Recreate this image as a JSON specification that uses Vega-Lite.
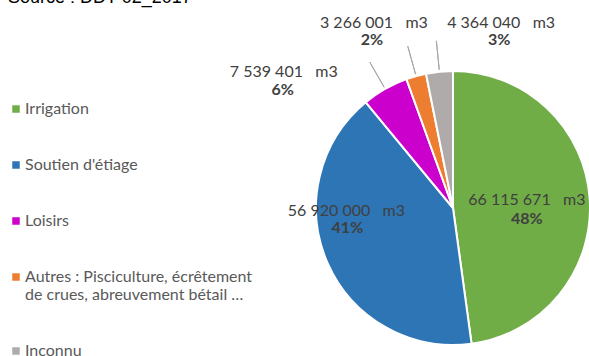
{
  "$schema": "https://vega.github.io/schema/vega-lite/v6.json",
  "autosize": "none",
  "width": 274,
  "height": 274,
  "padding": {"left": 316, "top": 71, "right": 0, "bottom": 11},
  "background": "white",
  "config": {"view": {"stroke": null}},
  "title": {"text": "Source : DDT 02_2017", "anchor": "start", "frame": "group", "baseline": "alphabetic", "offset": 0, "dx": -308, "dy": 6, "font": "Liberation Sans", "fontSize": 18, "fontWeight": "normal", "color": "#000000"},
  "data": {"values": [
    {"cat": "Irrigation", "value": 66115671, "ord": 1, "vol": "66 115 671 \u00a0 m3", "pct": "48%"},
    {"cat": "Soutien d'étiage", "value": 56920000, "ord": 2, "vol": "56 920 000 \u00a0 m3", "pct": "41%"},
    {"cat": "Loisirs", "value": 7539401, "ord": 3, "vol": "7 539 401 \u00a0 m3", "pct": "6%"},
    {"cat": "Autres : Pisciculture, écrêtement de crues, abreuvement bétail …", "value": 3266001, "ord": 4, "vol": "3 266 001 \u00a0 m3", "pct": "2%"},
    {"cat": "Inconnu", "value": 4364040, "ord": 5, "vol": "4 364 040 \u00a0 m3", "pct": "3%"}
  ]},
  "encoding": {
    "theta": {"field": "value", "type": "quantitative", "stack": true},
    "order": {"field": "ord", "type": "quantitative"}
  },
  "layer": [
    {
      "mark": {"type": "arc", "radius": 137, "stroke": "white", "strokeWidth": 2},
      "encoding": {
        "color": {
          "field": "cat", "type": "nominal",
          "scale": {
            "domain": ["Irrigation", "Soutien d'étiage", "Loisirs", "Autres : Pisciculture, écrêtement de crues, abreuvement bétail …", "Inconnu"],
            "range": ["#70AD47", "#2E75B6", "#CC00CC", "#ED7D31", "#AFABAB"]
          },
          "legend": {
            "title": null,
            "orient": "none",
            "legendX": -308,
            "legendY": 30,
            "symbolType": "square",
            "symbolSize": 56,
            "symbolStrokeWidth": 0,
            "labelFont": "Lato",
            "labelFontSize": 16,
            "labelColor": "#595959",
            "labelOffset": 1,
            "labelLimit": 400,
            "rowPadding": 40,
            "labelExpr": "datum.label == 'Autres : Pisciculture, écrêtement de crues, abreuvement bétail …' ? ['Autres : Pisciculture, écrêtement', 'de crues, abreuvement bétail …'] : datum.label"
          }
        }
      }
    },
    {
      "mark": {"type": "arc", "radius": 168, "radius2": 139, "padAngle": 0.3, "filled": false, "stroke": "#a6a6a6", "strokeWidth": 1},
      "encoding": {
        "strokeOpacity": {"condition": {"test": "datum.ord >= 3", "value": 1}, "value": 0}
      }
    },
    {
      "mark": {
        "type": "text", "font": "Lato", "fontSize": 16, "color": "#404040",
        "radius": {"expr": "datum.ord == 1 ? 74 : datum.ord == 2 ? 100 : 160"},
        "dx": {"expr": "datum.ord == 1 ? 0 : datum.ord == 2 ? -15 : datum.ord == 3 ? -90 : datum.ord == 4 ? -36 : 64"},
        "dy": {"expr": "datum.ord == 1 ? -3 : datum.ord == 2 ? -37 : datum.ord == 3 ? 3 : datum.ord == 4 ? -31 : -26"}
      },
      "encoding": {"text": {"field": "vol"}}
    },
    {
      "mark": {
        "type": "text", "font": "Lato", "fontSize": 16, "fontWeight": "bold", "color": "#404040",
        "radius": {"expr": "datum.ord == 1 ? 74 : datum.ord == 2 ? 100 : 160"},
        "dx": {"expr": "datum.ord == 1 ? 0 : datum.ord == 2 ? -14 : datum.ord == 3 ? -91 : datum.ord == 4 ? -38 : 62"},
        "dy": {"expr": "datum.ord == 1 ? 16 : datum.ord == 2 ? -20 : datum.ord == 3 ? 21 : datum.ord == 4 ? -14 : -9"}
      },
      "encoding": {"text": {"field": "pct"}}
    }
  ]
}
